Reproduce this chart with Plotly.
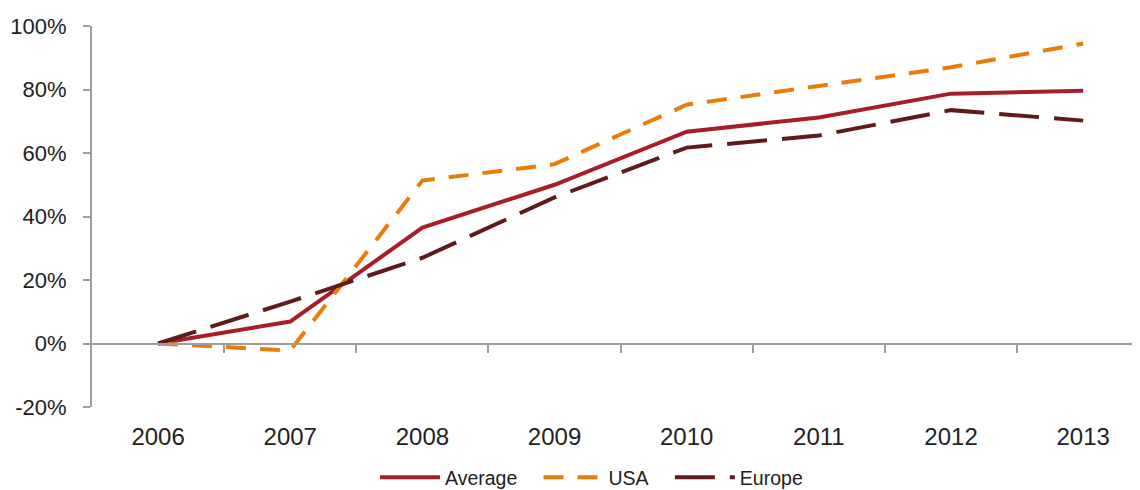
"""Average / USA / Europe growth since 2006"""
import plotly.graph_objects as go

years = ["2006", "2007", "2008", "2009", "2010", "2011", "2012", "2013"]
average = [0.0, 0.069, 0.365, 0.50, 0.667, 0.712, 0.787, 0.796]
usa = [0.0, -0.022, 0.513, 0.565, 0.752, 0.812, 0.870, 0.945]
europe = [0.0, 0.132, 0.270, 0.460, 0.617, 0.655, 0.735, 0.702]
y_ticks = [-0.2, 0.0, 0.2, 0.4, 0.6, 0.8, 1.0]
y_labels = ["-20%", "0%", "20%", "40%", "60%", "80%", "100%"]

AXIS = "#9E9E9E"
TXT = "#222222"
SP = "\u00a0" * 3  # separación entre entradas de la leyenda

x = list(range(len(years)))
fig = go.Figure()

fig.add_trace(go.Scatter(
    x=x, y=average, mode="lines", name="Average" + SP,
    line=dict(color="#A81E28", width=4),
))
fig.add_trace(go.Scatter(
    x=x, y=usa, mode="lines", name="USA" + SP,
    line=dict(color="#E87D0B", width=4, dash="20px,14px"),
))
fig.add_trace(go.Scatter(
    x=x, y=europe, mode="lines", name="Europe",
    line=dict(color="#5F1B1B", width=4, dash="40px,15px"),
))

# eje auxiliar sobre la línea de 0% con marcas en los bordes de categoría
fig.add_trace(go.Scatter(x=[None], y=[None], xaxis="x2", showlegend=False,
                         hoverinfo="skip"))

# la página tiene 8px de margen en el body: se descuenta del tamaño
xr = [-0.5, 7.43]
fig.update_layout(
    width=1132, height=482,
    margin=dict(l=84, r=0, t=18, b=83),
    paper_bgcolor="white",
    plot_bgcolor="white",
    font=dict(family="Liberation Sans, Arial", size=22, color=TXT),
    xaxis=dict(
        range=xr, tickvals=x, ticktext=years, showgrid=False,
        zeroline=False, showline=False, ticks="", automargin=False,
        tickfont=dict(size=24), ticklabelstandoff=13,
    ),
    xaxis2=dict(
        range=xr, overlaying="x", anchor="free", position=0.2 / 1.2,
        showline=True, linecolor=AXIS, linewidth=2,
        tickvals=[i + 0.5 for i in x], ticks="outside", ticklen=8,
        tickcolor=AXIS, tickwidth=1.5, showticklabels=False, showgrid=False,
        zeroline=False, automargin=False,
    ),
    yaxis=dict(
        range=[-0.2, 1.0], tickvals=y_ticks, ticktext=y_labels,
        showgrid=False, zeroline=False, automargin=False,
        showline=True, linecolor=AXIS, linewidth=2,
        ticks="outside", ticklen=7, tickcolor=AXIS, tickwidth=1.5,
        tickfont=dict(size=22), ticklabelstandoff=12,
    ),
    legend=dict(
        orientation="h", xref="paper", yref="container",
        xanchor="center", x=0.4766, yanchor="middle", y=0.026,
        font=dict(size=19.5, color=TXT), itemwidth=60, tracegroupgap=0,
    ),
    showlegend=True,
)

fig.write_html("out.html")
